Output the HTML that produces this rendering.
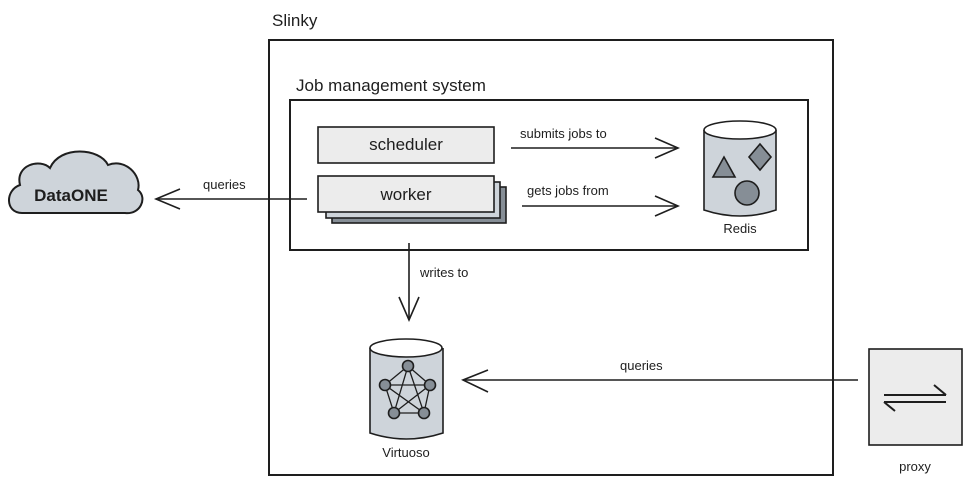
<!DOCTYPE html>
<html><head><meta charset="utf-8"><style>
html,body{margin:0;padding:0;background:#fff;width:972px;height:487px;overflow:hidden}
text{font-family:"Liberation Sans",sans-serif;fill:#1e1e1e}
</style></head><body>
<svg width="972" height="487" viewBox="0 0 972 487" xmlns="http://www.w3.org/2000/svg">
<g fill="none" stroke="#1e1e1e" stroke-width="1.6">
<rect x="269" y="40" width="564" height="435" stroke-width="2"/>
<rect x="290" y="100" width="518" height="150" stroke-width="2"/>
<rect x="318" y="127" width="176" height="36" fill="#ececec"/>
<rect x="332" y="187" width="174" height="36" fill="#868e96"/>
<rect x="326" y="182" width="174" height="36" fill="#ced4da"/>
<rect x="318" y="176" width="176" height="36" fill="#ececec"/>
<line x1="511" y1="148" x2="678" y2="148"/><polyline points="655,138 678,148 655,158"/>
<line x1="522" y1="206" x2="678" y2="206"/><polyline points="655,196 678,206 655,216"/>
<line x1="307" y1="199" x2="156" y2="199"/><polyline points="180,189 156,199 180,209"/>
<line x1="409" y1="243" x2="409" y2="320"/><polyline points="399,297 409,320 419,297"/>
<line x1="858" y1="380" x2="463" y2="380"/><polyline points="488,370 463,380 488,392"/>
<path d="M704 130 L704 210 Q740 222 776 210 L776 130" fill="#ced4da"/>
<ellipse cx="740" cy="130" rx="36" ry="9" fill="#fff"/>
<polygon points="724,157 713,177 735,177" fill="#868e96"/>
<polygon points="760,144 771,157 760,170 749,157" fill="#868e96"/>
<circle cx="747" cy="193" r="12" fill="#868e96"/>
<path d="M370 348 L370 433 Q406 445 443 433 L443 348" fill="#ced4da"/>
<ellipse cx="406" cy="348" rx="36" ry="9" fill="#fff"/>
<g stroke-width="1.3">
<polyline points="408,366 385,385 394,413 424,413 430,385 408,366" />
<polyline points="408,366 394,413 430,385 385,385 424,413 408,366" />
</g>
<g fill="#868e96">
<circle cx="408" cy="366" r="5.5"/><circle cx="385" cy="385" r="5.5"/><circle cx="430" cy="385" r="5.5"/>
<circle cx="394" cy="413" r="5.5"/><circle cx="424" cy="413" r="5.5"/>
</g>
<rect x="869" y="349" width="93" height="96" fill="#ececec"/>
<g stroke-width="2">
<line x1="884" y1="395" x2="946" y2="395"/><line x1="946" y1="395" x2="934" y2="385"/>
<line x1="946" y1="402" x2="884" y2="402"/><line x1="884" y1="402" x2="895" y2="411"/>
</g>
<path d="M22 213 C5 213 5 190 20 185 C15 165 40 158 50 168 C60 145 100 148 108 165 C125 158 142 175 138 190 C148 198 140 215 125 213 Z" fill="#ced4da" stroke-width="2"/>
</g>
<g font-size="17">
<text x="272" y="26">Slinky</text>
<text x="296" y="91">Job management system</text>
<text x="406" y="150" text-anchor="middle">scheduler</text>
<text x="406" y="200" text-anchor="middle">worker</text>
<text x="71" y="201" text-anchor="middle" font-weight="bold">DataONE</text>
</g>
<g font-size="13">
<text x="520" y="138">submits jobs to</text>
<text x="527" y="195">gets jobs from</text>
<text x="203" y="189">queries</text>
<text x="420" y="277">writes to</text>
<text x="620" y="370">queries</text>
<text x="740" y="233" text-anchor="middle">Redis</text>
<text x="406" y="457" text-anchor="middle">Virtuoso</text>
<text x="915" y="471" text-anchor="middle">proxy</text>
</g>
</svg>
</body></html>
